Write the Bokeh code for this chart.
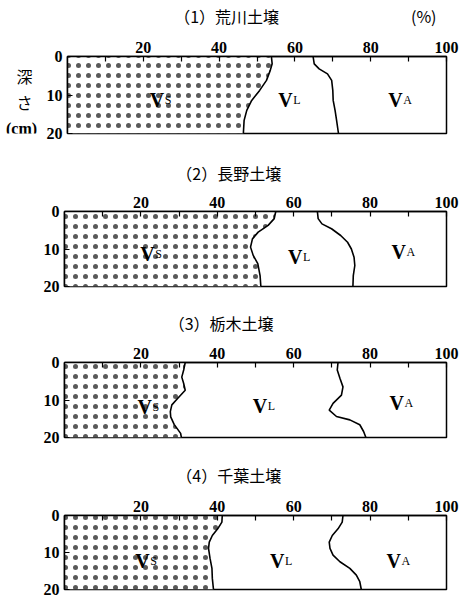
from bokeh.plotting import figure
from bokeh.models import Range1d, FixedTicker, Label, LinearAxis
from bokeh.layouts import column, row
from bokeh.core.properties import value
from bokeh.embed import file_html
from bokeh.resources import INLINE

titles = ["（1）荒川土壌", "（2）長野土壌", "（3）栃木土壌", "（4）千葉土壌"]
x_major = [20, 40, 60, 80, 100]
x_minor = [10, 30, 50, 70, 90]
y_ticks = [0, 10, 20]

# (1) Arakawa: depth (cm) and cumulative volume fraction (%)
depth_s1 = [0, 1.9, 3.6, 6.2, 8.8, 11.4, 14.0, 16.6, 20]
solid_1 = [53.8, 54.0, 53.5, 52.5, 50.7, 48.6, 47.3, 46.6, 46.4]
depth_l1 = [0, 1.9, 3.2, 4.5, 6.2, 8.8, 11.4, 14.0, 16.6, 20]
solid_liquid_1 = [64.8, 65.1, 66.4, 68.6, 69.7, 70.0, 70.1, 70.6, 71.0, 71.5]

# (2) Nagano
depth_s2 = [0, 1.9, 3.7, 5.5, 7.3, 9.5, 11.7, 13.9, 17.1, 20]
solid_2 = [55.3, 54.9, 53.3, 50.7, 49.2, 48.7, 49.4, 50.6, 51.2, 51.4]
depth_l2 = [0, 1.9, 3.3, 4.6, 6.4, 8.2, 10.0, 12.2, 14.4, 17.1, 20]
solid_liquid_2 = [66.2, 66.4, 67.4, 69.9, 72.3, 74.1, 75.1, 75.8, 76.0, 75.6, 75.5]

# (3) Tochigi
depth_s3 = [0, 2.0, 3.9, 5.6, 7.4, 9.6, 11.3, 13.1, 14.5, 16.5, 18.9, 20]
solid_3 = [31.6, 31.2, 30.7, 31.2, 31.6, 29.6, 28.1, 27.7, 27.8, 28.7, 30.4, 30.6]
depth_l3 = [0, 2.0, 4.2, 6.5, 8.7, 10.9, 12.7, 14.4, 15.3, 16.6, 18.4, 20]
solid_liquid_3 = [71.6, 71.4, 72.1, 72.9, 72.5, 70.3, 69.3, 71.2, 74.7, 77.3, 78.3, 78.9]

# (4) Chiba
depth_s4 = [0, 1.8, 3.6, 5.4, 7.2, 8.9, 11.6, 14.3, 17.0, 20]
solid_4 = [41.3, 41.2, 40.1, 38.7, 37.9, 37.7, 38.1, 38.6, 38.7, 39.0]
depth_l4 = [0, 1.8, 3.6, 5.4, 7.2, 8.9, 10.7, 12.5, 14.3, 16.1, 17.9, 20]
solid_liquid_4 = [72.9, 72.7, 71.6, 70.1, 69.3, 69.5, 70.3, 72.1, 74.7, 76.4, 77.3, 77.7]

panels = [
    (depth_s1, solid_1, depth_l1, solid_liquid_1),
    (depth_s2, solid_2, depth_l2, solid_liquid_2),
    (depth_s3, solid_3, depth_l3, solid_liquid_3),
    (depth_s4, solid_4, depth_l4, solid_liquid_4),
]

# layout (pixels): top border, frame height, bottom border
geom = [(56, 77, 18), (60, 75, 15), (61, 75, 15), (63, 74, 12)]
title_standoff = [5, 3, 4, 5]
# phase label anchor positions (x %, depth) for Vs, VL, VA
label_pos = [
    [(21.7, 11.4), (55.6, 11.4), (84.6, 11.4)],
    [(19.8, 11.3), (58.5, 12.0), (85.6, 10.8)],
    [(19.1, 11.8), (49.3, 11.7), (85.1, 10.9)],
    [(18.5, 12.4), (53.8, 12.4), (84.3, 12.4)],
]
title_x = [42, 43, 41, 43]

SERIF = "Liberation Serif"
CJK = "Noto Sans CJK JP"
LEFT_W = 43

figs = []
for i, (ds, s, dl, sl) in enumerate(panels):
    top, fh, bot = geom[i]
    lb = 64 - LEFT_W if i == 0 else 64
    p = figure(width=460 - (LEFT_W if i == 0 else 0), height=top + fh + bot,
               x_range=Range1d(0, 100), y_range=Range1d(20, 0),
               x_axis_location="above",
               output_backend="svg", toolbar_location=None,
               min_border_left=lb, min_border_right=14,
               min_border_top=top, min_border_bottom=bot)
    p.grid.visible = False
    p.outline_line_color = "black"
    p.outline_line_width = 1.5
    p.background_fill_color = "white"
    p.border_fill_color = "white"

    ax = p.xaxis[0]
    ax.ticker = FixedTicker(ticks=x_major, minor_ticks=x_minor)
    ax.major_tick_in = 5
    ax.major_tick_out = 0
    ax.minor_tick_in = 5
    ax.minor_tick_out = 0
    ax.axis_line_width = 1.5
    ax.major_tick_line_width = 1.2
    ax.minor_tick_line_width = 1.2
    ax.major_label_standoff = 4
    ax.major_label_text_font = SERIF
    ax.major_label_text_font_style = "bold"
    ax.major_label_text_font_size = "16px"
    ax.major_label_text_color = "black"

    ay = p.yaxis[0]
    ay.ticker = FixedTicker(ticks=y_ticks)
    ay.major_tick_in = 5
    ay.major_tick_out = 0
    ay.minor_tick_line_color = None
    ay.axis_line_width = 1.5
    ay.major_tick_line_width = 1.2
    ay.major_label_standoff = 5
    ay.major_label_text_font = SERIF
    ay.major_label_text_font_style = "bold"
    ay.major_label_text_font_size = "16px"
    ay.major_label_text_color = "black"

    # panel title (and unit mark) as labels of an extra top axis
    tt = [title_x[i]]
    overrides = {title_x[i]: titles[i]}
    if i == 0:
        tt.append(94)
        overrides[94] = "(%)"
    tax = LinearAxis(ticker=FixedTicker(ticks=tt, minor_ticks=[]),
                     major_label_overrides=overrides,
                     axis_line_color=None, major_tick_line_color=None,
                     minor_tick_line_color=None,
                     major_label_standoff=title_standoff[i],
                     major_label_text_font=CJK,
                     major_label_text_font_size="16px",
                     major_label_text_color="black")
    p.add_layout(tax, "above")

    # stippled solid-phase region
    p.harea(x1=[0] * len(ds), x2=s, y=ds, fill_color="white",
            hatch_pattern="dot", hatch_color="black", hatch_scale=10,
            hatch_weight=0.2, hatch_alpha=0.65)
    p.line(s, ds, line_color="black", line_width=1.6)
    p.line(sl, dl, line_color="black", line_width=1.6)

    # phase labels
    for (lx, ly), sub in zip(label_pos[i], ["S", "L", "A"]):
        p.add_layout(Label(x=lx, y=ly, text="V", text_font=SERIF,
                           text_font_style="bold", text_font_size="20px",
                           text_color="black",
                           text_align="left", text_baseline="alphabetic"))
        p.add_layout(Label(x=lx, y=ly, x_offset=15, text=sub, text_font=SERIF,
                           text_font_size="12px", text_color="black",
                           text_align="left", text_baseline="alphabetic"))
    figs.append(p)

# left strip carrying the depth-axis caption of the first panel
# (shares the depth range of panel 1; frames are aligned in the row)
lf = figure(width=LEFT_W, height=sum(geom[0]), x_range=Range1d(0, LEFT_W),
            y_range=figs[0].y_range, x_axis_location=None, y_axis_location=None,
            output_backend="svg", toolbar_location=None,
            min_border_left=0, min_border_right=0,
            min_border_top=geom[0][0], min_border_bottom=geom[0][2])
lf.grid.visible = False
lf.outline_line_color = None
lf.text(x=[24], y=[8.4], text=["深\nさ"], text_font=value(CJK),
        text_font_size="16px", text_align="center", text_baseline="middle",
        text_line_height=1.1, text_color="black")
lf.text(x=[21], y=[18.6], text=["(cm)"], text_font=value(SERIF),
        text_font_style="bold", text_font_size="16px", text_align="center",
        text_baseline="middle", text_color="black")

layout = column(row(lf, figs[0], spacing=0), *figs[1:], spacing=0)
open("out.html", "w").write(file_html(layout, INLINE))
